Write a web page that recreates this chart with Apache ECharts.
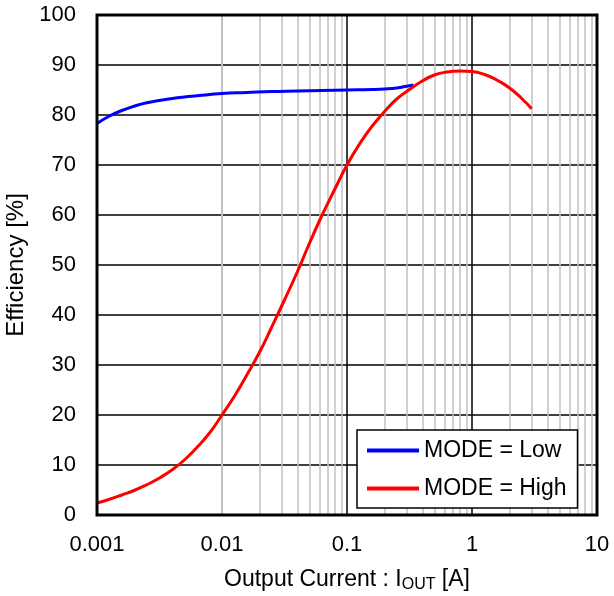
<!DOCTYPE html>
<html>
<head>
<meta charset="utf-8">
<script src="https://cdn.jsdelivr.net/npm/echarts@6/dist/echarts.min.js"></script>
<style>
  html, body { margin: 0; padding: 0; background: #fff; }
  #chart { width: 614px; height: 596px; }
</style>
</head>
<body>
<div id="chart"></div>
<script>
// efficiency vs output current
const lowMode = [
    [0.001, 78.3], [0.00126, 79.8], [0.00158, 80.9], [0.002, 81.8], [0.0025, 82.45],
    [0.00316, 82.9], [0.004, 83.3], [0.005, 83.6], [0.0063, 83.85], [0.008, 84.1],
    [0.01, 84.3], [0.0158, 84.5], [0.025, 84.7], [0.04, 84.8], [0.063, 84.9],
    [0.1, 85.0], [0.158, 85.1], [0.2, 85.2], [0.25, 85.4], [0.3, 85.75], [0.34, 86.0]
];
const highMode = [
    [0.001, 2.4], [0.00126, 3.15], [0.00158, 4.0], [0.002, 4.95], [0.0025, 6.05],
    [0.00316, 7.4], [0.004, 9.05], [0.005, 11.0], [0.0063, 13.5], [0.008, 16.5],
    [0.01, 20.0], [0.0126, 23.8], [0.0158, 28.0], [0.02, 32.6], [0.025, 37.6],
    [0.0316, 43.0], [0.04, 48.6], [0.05, 54.3], [0.063, 59.9], [0.08, 65.2],
    [0.1, 70.0], [0.126, 74.2], [0.158, 77.7], [0.2, 80.7], [0.25, 83.2],
    [0.32, 85.2], [0.4, 86.8], [0.5, 88.0], [0.63, 88.6], [0.8, 88.8],
    [1, 88.7], [1.26, 88.1], [1.58, 87.0], [2, 85.4], [2.5, 83.3], [3, 81.25]
];
const seriesNames = ['MODE = Low', 'MODE = High'];
const xTickLabels = ['0.001', '0.01', '0.1', '1', '10'];
const yTicks = [0, 10, 20, 30, 40, 50, 60, 70, 80, 90, 100];

// minor log grid: 2..9 within each decade
const minorDecades = [0.001, 0.01, 0.1, 1];
const minorSteps = [2, 3, 4, 5, 6, 7, 8, 9];

var font = 'Liberation Sans, Arial, sans-serif';
var minorLines = [];
minorDecades.forEach(function (d) {
    minorSteps.forEach(function (s) {
        minorLines.push({ xAxis: +(d * s).toPrecision(3) });
    });
});

var chart = echarts.init(document.getElementById('chart'));

var option = {
    backgroundColor: '#fff',
    animation: false,
    textStyle: { fontFamily: font },
    grid: {
        left: 97, right: 17, top: 15, bottom: 81,
        outerBoundsMode: 'none',
        containLabel: false,
        show: true,
        z: 10,
        backgroundColor: 'transparent',
        borderColor: '#000',
        borderWidth: 3
    },
    legend: {
        orient: 'vertical',
        left: 357,
        top: 430,
        padding: [9, 11, 8, 10],
        itemGap: 15,
        itemWidth: 52,
        itemHeight: 4,
        icon: 'rect',
        backgroundColor: '#fff',
        borderColor: '#000',
        borderWidth: 1.5,
        borderRadius: 0,
        z: 20,
        textStyle: { fontSize: 23, color: '#000', fontFamily: font },
        data: seriesNames
    },
    xAxis: {
        type: 'log',
        logBase: 10,
        min: 0.001,
        max: 10,
        z: 0,
        axisLine: { show: false },
        axisTick: { show: false },
        axisLabel: {
            fontSize: 22,
            color: '#000',
            margin: 19,
            fontFamily: font,
            formatter: function (v) {
                var i = Math.round(Math.log10(v)) + 3;
                return xTickLabels[i] || '';
            }
        },
        splitLine: { show: true, lineStyle: { color: '#000', width: 1.5 } },
        name: 'Output Current : I{sub|OUT} [A]',
        nameLocation: 'middle',
        nameGap: 52,
        nameTextStyle: {
            fontSize: 23,
            color: '#000',
            fontFamily: font,
            lineHeight: 26,
            rich: {
                sub: { fontSize: 16, lineHeight: 16, verticalAlign: 'bottom', color: '#000', fontFamily: font }
            }
        }
    },
    yAxis: {
        type: 'value',
        min: yTicks[0],
        max: yTicks[yTicks.length - 1],
        interval: 10,
        z: 3,
        axisLine: { show: false },
        axisTick: { show: false },
        axisLabel: { fontSize: 22, color: '#000', margin: 21, fontFamily: font },
        splitLine: { show: true, lineStyle: { color: '#000', width: 1.5 } },
        name: 'Efficiency [%]',
        nameLocation: 'middle',
        nameRotate: 90,
        nameGap: 62,
        nameTextStyle: { fontSize: 24, color: '#000', fontFamily: font }
    },
    series: [
        {
            type: 'line',
            name: 'minor',
            data: [],
            z: 1,
            silent: true,
            markLine: {
                silent: true,
                symbol: ['none', 'none'],
                label: { show: false },
                lineStyle: { color: '#c0c0c0', width: 1.5, type: 'solid' },
                data: minorLines
            }
        },
        {
            type: 'line',
            name: seriesNames[0],
            data: lowMode,
            smooth: 0.5,
            showSymbol: false,
            z: 5,
            color: '#0000ff',
            lineStyle: { color: '#0000ff', width: 3 }
        },
        {
            type: 'line',
            name: seriesNames[1],
            data: highMode,
            smooth: 0.5,
            showSymbol: false,
            z: 6,
            color: '#ff0000',
            lineStyle: { color: '#ff0000', width: 3 }
        }
    ]
};
chart.setOption(option);
</script>
</body>
</html>
